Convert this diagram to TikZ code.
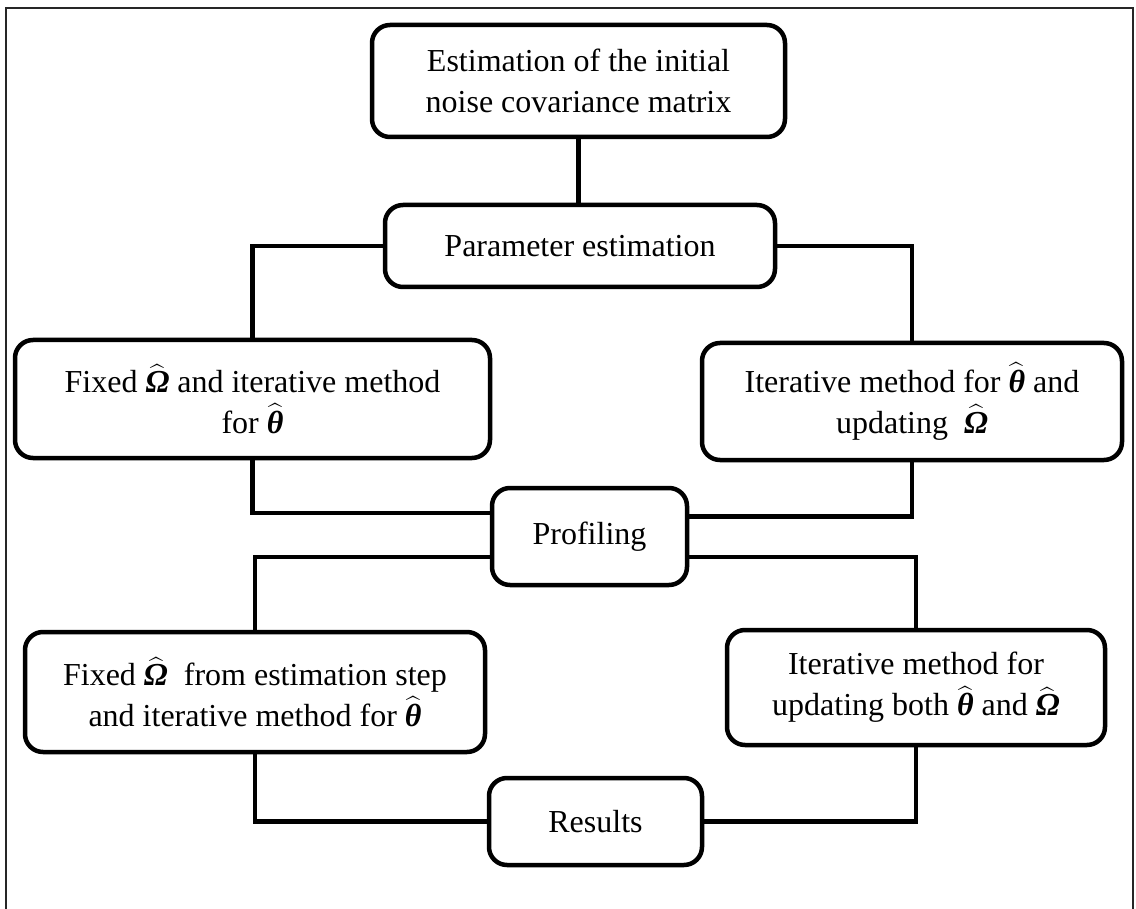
\documentclass[tikz,border=0pt]{standalone}
\usepackage{fontspec}
\setmainfont{Liberation Serif}
\usepackage{amsmath}
\usepackage{tikz}
\usetikzlibrary{calc}
\tikzstyle{stage} = [rectangle, draw, line width=4.5pt, rounded corners=18pt, align=center, inner sep=0pt, font=\fontsize{32}{41}\selectfont]
\tikzstyle{link} = [draw, line width=4.3pt]
\tikzstyle{frame} = [draw, line width=1.8pt, black!85]
\newcommand{\hatbf}[1]{$\widehat{\mbox{\bfseries\itshape #1}}$}

\begin{document}
\begin{tikzpicture}[x=1pt, y=-1pt]
    \useasboundingbox (0,0) rectangle (1136,909);
    \draw [frame] (6,909) -- (6,8) -- (1133,8) -- (1133,909);

    \node (init) [stage, minimum width=413pt, minimum height=112pt] at (578.5,81) {Estimation of the initial\\noise covariance matrix};
    \node (param) [stage, minimum width=390pt, minimum height=82pt] at (580,246) {Parameter estimation};

    % Estimation step
    \node (fixedA) [stage, minimum width=475pt, minimum height=118pt] at (252.5,399) {Fixed \hatbf{Ω} and iterative method\\for \hatbf{θ}};
    \node (iterA) [stage, minimum width=420pt, minimum height=117pt] at (912,401.5) {Iterative method for \hatbf{θ} and\\updating \ \hatbf{Ω}};
    \node (profiling) [stage, minimum width=195pt, minimum height=97pt] at (589.5,536.5) {Profiling};

    % Profiling step
    \node (fixedB) [stage, minimum width=460pt, minimum height=120pt] at (255,692) {Fixed \hatbf{Ω} \ from estimation step\\and iterative method for \hatbf{θ}};
    \node (iterB) [stage, minimum width=378pt, minimum height=115pt] at (916,687.5) {Iterative method for\\updating both \hatbf{θ} and \hatbf{Ω}};
    \node (results) [stage, minimum width=213pt, minimum height=87pt] at (595.5,821.5) {Results};

    \draw [link] (init.south) -- (init.south |- param.north);
    \draw [link] (param.west) -| (fixedA.north);
    \draw [link] (param.east) -| (iterA.north);

    \draw [link] (fixedA.south) |- ([yshift=23.5pt]profiling.west);
    \draw [link] (iterA.south) |- ([yshift=20pt]profiling.east);
    \draw [link] ([yshift=-20.5pt]profiling.west) -| (fixedB.north);
    \draw [link] ([yshift=-20.5pt]profiling.east) -| (iterB.north);

    \draw [link] (fixedB.south) |- (results.west);
    \draw [link] (iterB.south) |- (results.east);
\end{tikzpicture}
\end{document}
